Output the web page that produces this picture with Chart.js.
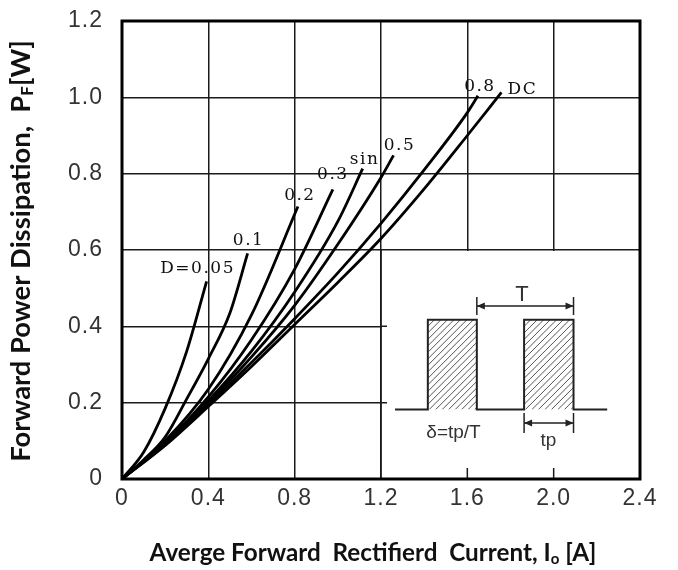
<!DOCTYPE html>
<html>
<head>
<meta charset="utf-8">
<script src="https://cdn.jsdelivr.net/npm/chart.js@4.4.0/dist/chart.umd.min.js"></script>
<style>
  html, body { margin: 0; padding: 0; background: #fff; }
  #wrap { width: 678px; height: 570px; }
</style>
</head>
<body>
<div id="wrap"><canvas id="chart" width="678" height="570"></canvas></div>
<script>
// Curvas por ciclo de trabajo
const curveNames = ["D=0.05", "0.1", "0.2", "0.3", "sin", "0.5", "0.8", "DC"];

const ioD005 = [0, 0.1, 0.2, 0.3, 0.392];
const pfD005 = [0, 0.07, 0.185, 0.335, 0.518];
const ioD01 = [0, 0.1, 0.2, 0.3, 0.4, 0.5, 0.582];
const pfD01 = [0, 0.05, 0.11, 0.21, 0.315, 0.435, 0.591];
const ioD02 = [0, 0.2, 0.4, 0.6, 0.815];
const pfD02 = [0, 0.1, 0.235, 0.43, 0.714];
const ioD03 = [0, 0.2, 0.4, 0.6, 0.8, 0.977];
const pfD03 = [0, 0.095, 0.215, 0.365, 0.55, 0.759];
const ioSin = [0, 0.2, 0.4, 0.6, 0.8, 1.0, 1.115];
const pfSin = [0, 0.093, 0.205, 0.335, 0.49, 0.675, 0.813];
const ioD05 = [0, 0.2, 0.4, 0.6, 0.8, 1.0, 1.2, 1.258];
const pfD05 = [0, 0.092, 0.2, 0.32, 0.455, 0.615, 0.79, 0.848];
const ioD08 = [0, 0.2, 0.4, 0.6, 0.8, 1.0, 1.2, 1.4, 1.6, 1.649];
const pfD08 = [0, 0.09, 0.195, 0.305, 0.42, 0.54, 0.67, 0.81, 0.96, 1.004];
const ioDC = [0, 0.2, 0.4, 0.6, 0.8, 1.0, 1.2, 1.4, 1.6, 1.758];
const pfDC = [0, 0.088, 0.19, 0.295, 0.405, 0.515, 0.63, 0.76, 0.9, 1.013];

const xTickValues = [0, 0.4, 0.8, 1.2, 1.6, 2.0, 2.4];
const xTickLabels = ["0", "0.4", "0.8", "1.2", "1.6", "2.0", "2.4"];
const yTickValues = [0, 0.2, 0.4, 0.6, 0.8, 1.0, 1.2];
const yTickLabels = ["0", "0.2", "0.4", "0.6", "0.8", "1.0", "1.2"];

const curveIo = [ioD005, ioD01, ioD02, ioD03, ioSin, ioD05, ioD08, ioDC];
const curvePf = [pfD005, pfD01, pfD02, pfD03, pfSin, pfD05, pfD08, pfDC];

// desplazamiento (px) de cada etiqueta respecto al final de su curva
const labelOffsets = [[-9, -13], [1, -13], [2, -11], [0, -15], [2, -9], [6, -10], [2, -9], [21, -3]];

const tickFont = { family: "Liberation Sans", size: 23 };

// Flecha horizontal con topes verticales en ambos extremos
function drawDimension(ctx, x1, x2, y, half) {
    ctx.beginPath();
    ctx.moveTo(x1, y); ctx.lineTo(x2, y);
    ctx.moveTo(x1, y - half); ctx.lineTo(x1, y + half);
    ctx.moveTo(x2, y - half); ctx.lineTo(x2, y + half);
    ctx.stroke();
    ctx.beginPath();
    ctx.moveTo(x1, y); ctx.lineTo(x1 + 8, y - 3.5); ctx.lineTo(x1 + 8, y + 3.5); ctx.closePath();
    ctx.moveTo(x2, y); ctx.lineTo(x2 - 8, y - 3.5); ctx.lineTo(x2 - 8, y + 3.5); ctx.closePath();
    ctx.fill();
}

// Dibujo del tren de pulsos dentro del grafico
function drawPulseSketch(ctx, s) {
    const X = v => s.x.getPixelForValue(v);
    const Y = v => s.y.getPixelForValue(v);
    const base = Y(0.182), top = Y(0.417);
    const pulses = [[1.417, 1.644], [1.863, 2.092]];

    pulses.forEach(p => {
        const a = X(p[0]), b = X(p[1]);
        ctx.save();
        ctx.beginPath();
        ctx.rect(a, top, b - a, base - top);
        ctx.clip();
        ctx.strokeStyle = "#555";
        ctx.lineWidth = 1;
        ctx.beginPath();
        for (let k = a - (base - top); k < b + 10; k += 6.5) {
            ctx.moveTo(k, base);
            ctx.lineTo(k + (base - top), top);
        }
        ctx.stroke();
        ctx.restore();
    });

    ctx.strokeStyle = "#222";
    ctx.lineWidth = 2;
    ctx.beginPath();
    ctx.moveTo(X(1.265), base);
    ctx.lineTo(X(1.417), base); ctx.lineTo(X(1.417), top);
    ctx.lineTo(X(1.644), top); ctx.lineTo(X(1.644), base);
    ctx.lineTo(X(1.863), base); ctx.lineTo(X(1.863), top);
    ctx.lineTo(X(2.092), top); ctx.lineTo(X(2.092), base);
    ctx.lineTo(X(2.248), base);
    ctx.stroke();

    ctx.lineWidth = 1.5;
    ctx.fillStyle = "#222";
    drawDimension(ctx, X(1.644), X(2.092), Y(0.4535), 9);
    drawDimension(ctx, X(1.863), X(2.092), Y(0.147), 10);

    ctx.fillStyle = "#333";
    ctx.textAlign = "center";
    ctx.textBaseline = "middle";
    ctx.font = "22px 'Liberation Sans'";
    ctx.fillText("T", X(1.853), Y(0.482));
    ctx.font = "19px 'Liberation Sans'";
    ctx.fillText("\u03b4=tp/T", X(1.536), Y(0.121));
    ctx.fillText("tp", X(1.976), Y(0.1));
}

// Texto con subindice, centrado en x, linea base en y
function drawRichText(ctx, parts, x, y, size) {
    const widths = parts.map(p => {
        ctx.font = "bold " + (p.sub ? size * 0.62 : size) + "px Lato";
        return ctx.measureText(p.text).width;
    });
    let cx = x - widths.reduce((a, b) => a + b, 0) / 2;
    parts.forEach((p, i) => {
        ctx.font = "bold " + (p.sub ? size * 0.62 : size) + "px Lato";
        ctx.fillText(p.text, cx, p.sub ? y + size * 0.12 : y);
        cx += widths[i];
    });
}

function fitSize(ctx, parts, target) {
    let w = 0;
    parts.forEach(p => {
        ctx.font = "bold " + (p.sub ? 12.4 : 20) + "px Lato";
        w += ctx.measureText(p.text).width;
    });
    return 20 * target / w;
}

const yTitle = [{ text: "Forward Power Dissipation,  P" }, { text: "F", sub: true }, { text: "[W]" }];
const xTitle = [{ text: "Averge Forward  Rectifierd  Current, I" }, { text: "o", sub: true }, { text: " [A]" }];

const decor = {
    id: "decor",
    beforeDraw(chart) {
        chart.ctx.letterSpacing = "1px";
    },
    beforeDatasetsDraw(chart) {
        const ctx = chart.ctx;
        const s = chart.scales;
        const l = s.x.getPixelForValue(1.2), r = s.x.getPixelForValue(2.4);
        const t = s.y.getPixelForValue(0.6), b = s.y.getPixelForValue(0);
        ctx.save();
        ctx.letterSpacing = "0px";
        ctx.fillStyle = "#fff";
        ctx.fillRect(l + 1, t + 1, r - l - 2, b - t - 2);
        ctx.strokeStyle = "#1a1a1a";
        ctx.lineWidth = 1.5;
        ctx.beginPath();
        ctx.moveTo(l, t); ctx.lineTo(l, b);
        [1.6, 2.0].forEach(v => {
            const x = s.x.getPixelForValue(v);
            ctx.moveTo(x, b); ctx.lineTo(x, b - 11);
        });
        [0.2, 0.4].forEach(v => {
            const y = s.y.getPixelForValue(v);
            ctx.moveTo(l, y); ctx.lineTo(l + 6, y);
        });
        ctx.stroke();
        drawPulseSketch(ctx, s);
        ctx.restore();
    },
    afterDatasetsDraw(chart) {
        const ctx = chart.ctx;
        const a = chart.chartArea;
        ctx.save();
        ctx.strokeStyle = "#000";
        ctx.lineWidth = 3;
        ctx.strokeRect(a.left, a.top, a.right - a.left, a.bottom - a.top);

        ctx.letterSpacing = "1.5px";
        ctx.font = "17px 'DejaVu Serif'";
        ctx.fillStyle = "#111";
        ctx.textAlign = "center";
        ctx.textBaseline = "middle";
        curveNames.forEach((name, i) => {
            const io = curveIo[i], pf = curvePf[i];
            const x = chart.scales.x.getPixelForValue(io[io.length - 1]);
            const y = chart.scales.y.getPixelForValue(pf[pf.length - 1]);
            ctx.fillText(name, x + labelOffsets[i][0], y + labelOffsets[i][1]);
        });
        ctx.restore();
    },
    afterDraw(chart) {
        const ctx = chart.ctx;
        ctx.save();
        ctx.letterSpacing = "0px";
        ctx.fillStyle = "#111";
        ctx.textAlign = "left";
        ctx.textBaseline = "alphabetic";
        drawRichText(ctx, xTitle, 373, 561, fitSize(ctx, xTitle, 447));
        ctx.translate(30, 251);
        ctx.rotate(-Math.PI / 2);
        drawRichText(ctx, yTitle, 0, 0, fitSize(ctx, yTitle, 422));
        ctx.restore();
    }
};

new Chart(document.getElementById("chart"), {
    type: "line",
    data: {
        datasets: curveNames.map((name, i) => ({
            label: name,
            data: curveIo[i].map((v, k) => ({ x: v, y: curvePf[i][k] })),
            borderColor: "#000",
            borderWidth: 2.8,
            pointRadius: 0,
            fill: false,
            cubicInterpolationMode: "monotone"
        }))
    },
    options: {
        responsive: false,
        animation: false,
        layout: { padding: { left: 40, right: 38, top: 21, bottom: 56 } },
        plugins: { legend: { display: false }, tooltip: { enabled: false } },
        scales: {
            x: {
                type: "linear",
                min: 0,
                max: 2.4,
                afterBuildTicks: sc => { sc.ticks = xTickValues.map(v => ({ value: v })); },
                afterFit: sc => { sc.height = 35; sc.paddingLeft = 0; sc.paddingRight = 0; },
                grid: { color: "#1a1a1a", lineWidth: 1.5, drawTicks: false },
                border: { display: false },
                ticks: {
                    callback: (v, i) => xTickLabels[i],
                    font: tickFont,
                    color: "#333",
                    padding: 6,
                    maxRotation: 0,
                    autoSkip: false
                }
            },
            y: {
                type: "linear",
                min: 0,
                max: 1.2,
                afterBuildTicks: sc => { sc.ticks = yTickValues.map(v => ({ value: v })); },
                afterFit: sc => { sc.width = 82; sc.paddingTop = 0; sc.paddingBottom = 0; },
                grid: { color: "#1a1a1a", lineWidth: 1.5, drawTicks: false },
                border: { display: false },
                ticks: {
                    callback: (v, i) => yTickLabels[i],
                    font: tickFont,
                    color: "#333",
                    padding: 19,
                    autoSkip: false
                }
            }
        }
    },
    plugins: [decor]
});
</script>
</body>
</html>
